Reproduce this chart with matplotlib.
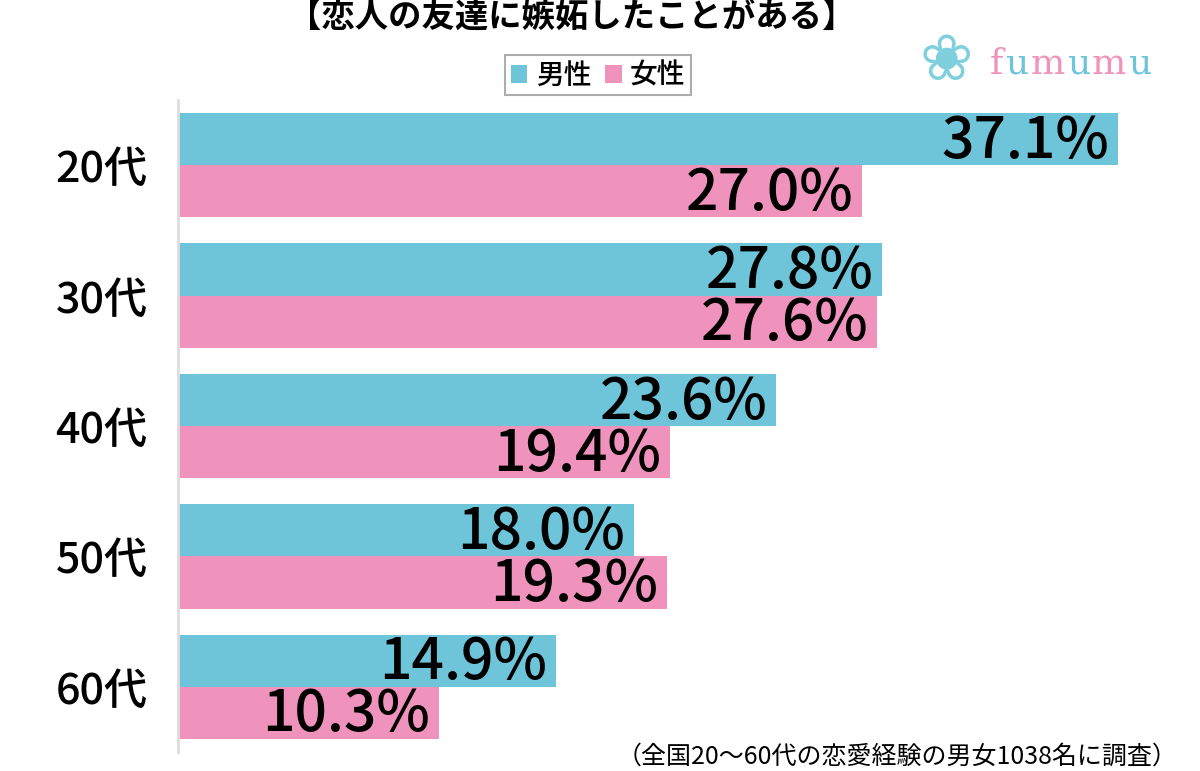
import matplotlib
matplotlib.use("Agg")
import matplotlib.pyplot as plt

plt.rcParams['font.family'] = ['Noto Sans CJK JP', 'DejaVu Sans']

# データ
categories = ['20代', '30代', '40代', '50代', '60代']
male = [37.1, 27.8, 23.6, 18.0, 14.9]
female = [27.0, 27.6, 19.4, 19.3, 10.3]
series_names = ['男性', '女性']
colors = ['#6EC5D9', '#EF93BC']

title = '【恋人の友達に嫉妬したことがある】'
note = '（全国20～60代の恋愛経験の男女1038名に調査）'

W, H = 1200, 771
fig = plt.figure(figsize=(W / 100, H / 100), dpi=100)
ax = fig.add_axes([178 / W, 1 - 752 / H, (1160 - 178) / W, (752 - 100) / H])

bar_h = 0.4
y = list(range(len(categories)))
ax.barh([v - bar_h / 2 for v in y], male, height=bar_h, color=colors[0], label=series_names[0])
ax.barh([v + bar_h / 2 for v in y], female, height=bar_h, color=colors[1], label=series_names[1])

for i in y:
    ax.text(male[i] - 0.35, i - bar_h / 2 + 0.02, f'{male[i]:.1f}%', ha='right', va='center',
            fontsize=41, fontweight='medium', color='black')
    ax.text(female[i] - 0.35, i + bar_h / 2 + 0.02, f'{female[i]:.1f}%', ha='right', va='center',
            fontsize=41, fontweight='medium', color='black')

ax.set_xlim(0, (1160 - 178) / 25.34)
ax.set_ylim(len(categories) - 0.5, -0.5)
ax.set_yticks(y)
ax.set_yticklabels(categories, fontsize=31, fontweight='medium')
ax.tick_params(axis='y', length=0, pad=22)
ax.set_xticks([])
for s in ['top', 'right', 'bottom']:
    ax.spines[s].set_visible(False)
ax.spines['left'].set_color('#dddddd')
ax.spines['left'].set_linewidth(2)

fig.text(572 / W, 1 - 18 / H, title, ha='center', va='center', fontsize=24, fontweight='bold')

leg = fig.legend(loc='center', bbox_to_anchor=(598 / W, 1 - 75 / H), ncol=2,
                 prop={'size': 20, 'weight': 'medium'},
                 frameon=True, fancybox=False, handlelength=0.6, handleheight=0.6,
                 handletextpad=0.3, columnspacing=0.5, borderpad=0.2)
leg.get_frame().set_edgecolor('#999999')
leg.get_frame().set_linewidth(1.5)

fig.text(1178 / W, 1 - 757 / H, note, ha='right', va='center', fontsize=18)

# ロゴ
fig.text(946 / W, 1 - 62 / H, '❀', ha='center', va='center', fontsize=46,
         color='#7FCFDD', family='DejaVu Sans')
fig.canvas.draw()
renderer = fig.canvas.get_renderer()
x = 990
for k, ch in enumerate('fumumu'):
    t = fig.text(x / W, 1 - 64 / H, ch, ha='left', va='center', fontsize=26,
                 color=colors[1] if k % 2 == 0 else colors[0], family='DejaVu Serif')
    x += t.get_window_extent(renderer).width + 2

fig.savefig('out.png', dpi=100)
